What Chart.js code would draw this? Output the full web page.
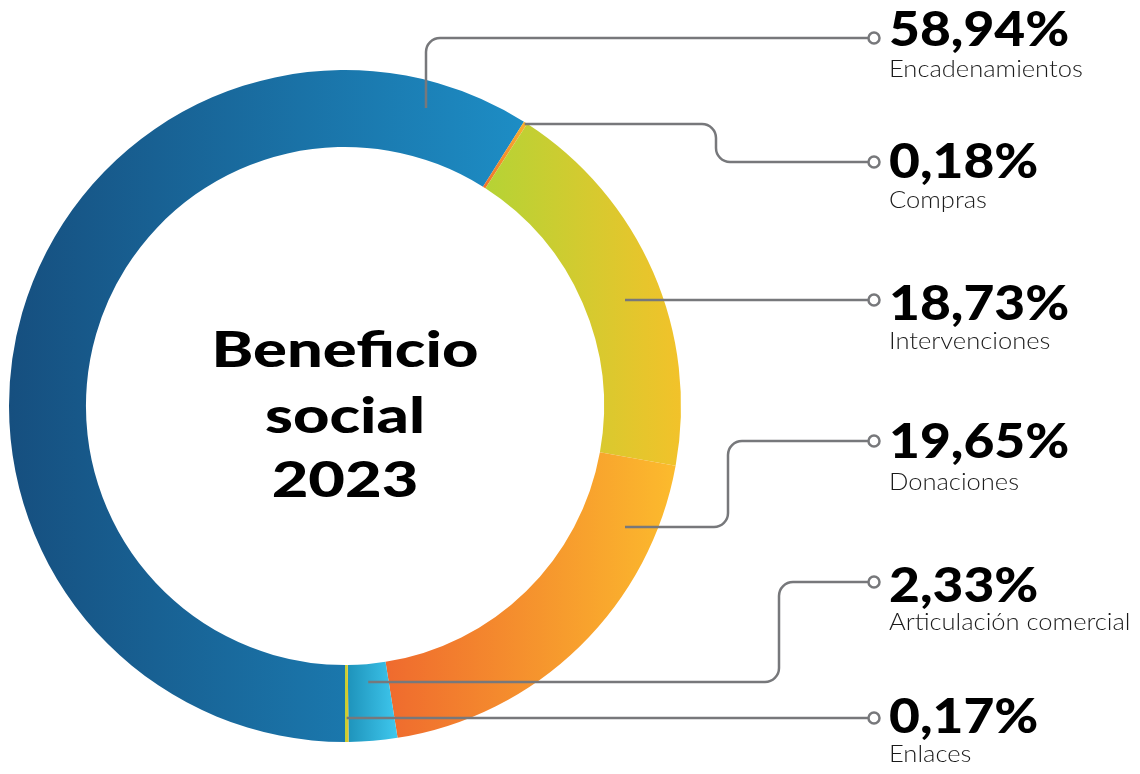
<!DOCTYPE html>
<html lang="es">
<head>
<meta charset="utf-8">
<title>Beneficio social 2023</title>
<script src="https://cdn.jsdelivr.net/npm/chart.js@4.4.1/dist/chart.umd.min.js"></script>
<style>
  html, body { margin: 0; padding: 0; background: #ffffff; }
  #wrap { position: relative; width: 1140px; height: 774px; }
</style>
</head>
<body>
<div id="wrap"><canvas id="chart" width="1140" height="774"></canvas></div>
<script>
// Slices in ring order, clockwise starting at the bottom of the ring
const categories = ['Encadenamientos', 'Compras', 'Intervenciones', 'Donaciones', 'Articulación comercial', 'Enlaces'];
const shares = [58.94, 0.18, 18.73, 19.65, 2.33, 0.17];
const shareLabels = ['58,94%', '0,18%', '18,73%', '19,65%', '2,33%', '0,17%'];
const centerTitle = ['Beneficio', 'social', '2023'];

// Left-to-right gradient colours of each slice
const sliceColors = [
  ['#164f7f', '#1d8dc5'],
  ['#f0702c', '#f9b32e'],
  ['#b5d335', '#f2c22a'],
  ['#ef6a2e', '#fcbb2d'],
  ['#1e93bb', '#3fc8ee'],
  ['#bcd335', '#ebc42a']
];

const ROTATION = 180;       // degrees, ring starts at the bottom
const CUTOUT = 0.771;

function ringGeometry(chart) {
  const a = chart.chartArea;
  const outer = Math.min(a.right - a.left, a.bottom - a.top) / 2;
  return { cx: (a.left + a.right) / 2, cy: (a.top + a.bottom) / 2, outer, inner: outer * CUTOUT };
}

function sliceAngles(index) {
  const total = shares.reduce((s, v) => s + v, 0);
  let start = (ROTATION - 90) * Math.PI / 180;
  for (let k = 0; k < index; k++) start += shares[k] / total * 2 * Math.PI;
  return [start, start + shares[index] / total * 2 * Math.PI];
}

function sliceGradient(context) {
  const chart = context.chart;
  const i = context.dataIndex;
  const pair = sliceColors[i];
  if (!chart.chartArea) return pair[0];
  const g = ringGeometry(chart);
  const [s, e] = sliceAngles(i);
  let minX = Infinity, maxX = -Infinity;
  for (let k = 0; k <= 90; k++) {
    const ang = s + (e - s) * k / 90;
    for (const r of [g.inner, g.outer]) {
      const x = g.cx + r * Math.cos(ang);
      minX = Math.min(minX, x); maxX = Math.max(maxX, x);
    }
  }
  if (maxX - minX < 1) maxX = minX + 1;
  const grad = chart.ctx.createLinearGradient(minX, 0, maxX, 0);
  grad.addColorStop(0, pair[0]);
  grad.addColorStop(1, pair[1]);
  return grad;
}

// Leader line routes: start on the ring, end at the marker circle
// 'slice' starts sit on the slice's middle angle at the given height
const leaderRoutes = [
  { start: { x: 426, y: 108 }, via: [[426, 38]], end: 38 },
  { start: { slice: true, y: 124 }, via: [[716, 124], [716, 162]], end: 162 },
  { start: { x: 625, y: 300 }, via: [], end: 300 },
  { start: { x: 625, y: 527 }, via: [[728, 527], [728, 441]], end: 441 },
  { start: { slice: true, y: 682 }, via: [[779, 682], [779, 582]], end: 582 },
  { start: { slice: true, y: 718 }, via: [], end: 718 }
];
const labelBaselines = [[46, 77], [178, 208], [320, 349], [458, 490], [602, 630], [733, 762]];

const MARK_X = 874, TEXT_X = 889;

// draws text horizontally stretched by sx, anchored at x
function stretchedText(ctx, text, x, y, sx, align) {
  ctx.save();
  ctx.translate(x, y);
  ctx.scale(sx, 1);
  ctx.textAlign = align;
  ctx.fillText(text, 0, 0);
  ctx.restore();
}

const annotationPlugin = {
  id: 'annotations',
  afterDraw(chart) {
    const ctx = chart.ctx;
    const g = ringGeometry(chart);
    ctx.save();

    // centre title
    ctx.fillStyle = '#000';
    ctx.textBaseline = 'alphabetic';
    ctx.font = '900 49px Lato';
    const titleBase = [367, 433, 497];
    centerTitle.forEach((t, k) => stretchedText(ctx, t, g.cx, titleBase[k], 1.29, 'center'));

    // leader lines
    ctx.strokeStyle = '#77787b';
    ctx.lineWidth = 2.5;
    ctx.lineJoin = 'round';
    ctx.lineCap = 'butt';
    leaderRoutes.forEach((route, i) => {
      let sx, sy = route.start.y;
      if (route.start.slice) {
        const [a0, a1] = sliceAngles(i);
        const mid = (a0 + a1) / 2;
        const r = (sy - g.cy) / Math.sin(mid);
        sx = g.cx + r * Math.cos(mid);
      } else {
        sx = route.start.x;
      }
      const pts = [[sx, sy], ...route.via, [MARK_X - 5.5, route.end]];
      ctx.beginPath();
      ctx.moveTo(pts[0][0], pts[0][1]);
      for (let k = 1; k < pts.length - 1; k++) {
        ctx.arcTo(pts[k][0], pts[k][1], pts[k + 1][0], pts[k + 1][1], 14);
      }
      ctx.lineTo(pts[pts.length - 1][0], pts[pts.length - 1][1]);
      ctx.stroke();

      ctx.beginPath();
      ctx.arc(MARK_X, route.end, 5.5, 0, Math.PI * 2);
      ctx.fillStyle = '#fff';
      ctx.fill();
      ctx.stroke();
    });

    // value and category labels
    categories.forEach((name, i) => {
      const [b1, b2] = labelBaselines[i];
      ctx.fillStyle = '#000';
      ctx.font = '900 48px Lato';
      stretchedText(ctx, shareLabels[i], TEXT_X, b1, 1.11, 'left');
      ctx.fillStyle = '#1a1a1a';
      ctx.font = '300 23px Lato';
      stretchedText(ctx, name, TEXT_X, b2, 1.11, 'left');
    });
    ctx.restore();
  }
};

new Chart(document.getElementById('chart'), {
  type: 'doughnut',
  data: {
    labels: categories,
    datasets: [{
      data: shares,
      backgroundColor: sliceGradient,
      borderWidth: 0
    }]
  },
  options: {
    responsive: false,
    animation: false,
    rotation: ROTATION,
    cutout: (CUTOUT * 100) + '%',
    layout: { padding: { left: 9, top: 70, right: 459, bottom: 32 } },
    plugins: { legend: { display: false }, tooltip: { enabled: false } },
    events: []
  },
  plugins: [annotationPlugin]
});
</script>
</body>
</html>
